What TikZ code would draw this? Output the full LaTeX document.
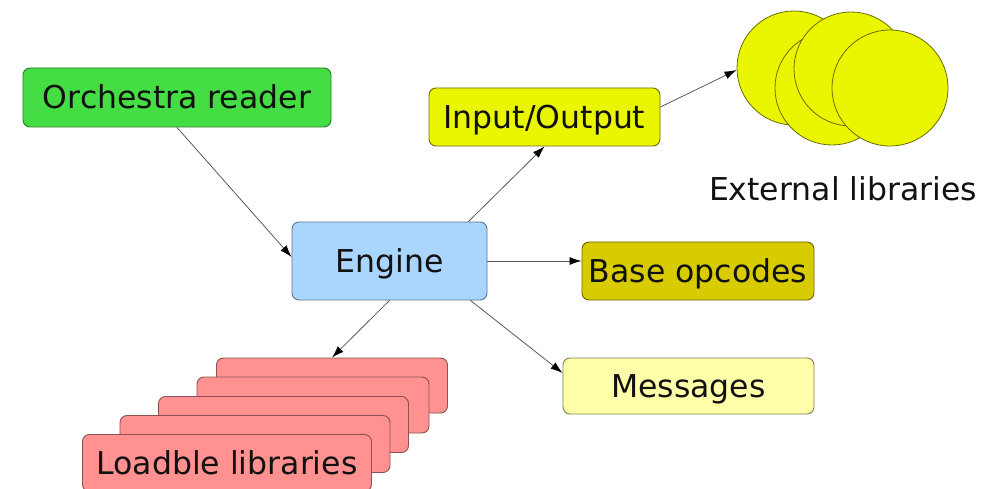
\documentclass[tikz,border=0pt]{standalone}
\usepackage{fontspec}
\setmainfont{DejaVu Sans}
\usetikzlibrary{arrows.meta,calc}
\definecolor{cgreen}{HTML}{44DD44}
\definecolor{cyellow}{HTML}{EAF500}
\definecolor{cblue}{HTML}{AAD5FF}
\definecolor{colive}{HTML}{D8CC00}
\definecolor{cpale}{HTML}{FFFFAA}
\definecolor{cred}{HTML}{FF9191}
\definecolor{ctext}{HTML}{111111}
\tikzset{
  box/.style={rounded corners=7pt, line width=0.9pt, inner sep=0pt,
    text=ctext, font=\fontsize{31.5}{38}\selectfont, text height=23pt, text depth=0pt},
  libbox/.style={box, fill=cred, draw=cred!55!black},
  ball/.style={circle, fill=cyellow, draw=cyellow!45!black, line width=0.8pt,
    minimum size=#1, inner sep=0pt},
  conn/.style={draw=black!65, line width=0.8pt, -{Latex[length=12pt,width=8pt,color=black]}},
  lbl/.style={text=ctext, font=\fontsize{31.5}{38}\selectfont, inner sep=0pt, text height=23pt, text depth=0pt}
}
\begin{document}
\begin{tikzpicture}[x=1pt,y=1pt]
\clip (0,0) rectangle (996,488);
% Orchestra reader
\node[box, fill=cgreen, draw=cgreen!55!black, minimum width=308pt, minimum height=59pt] (orch) at (177,390.5) {Orchestra reader};
% Input/Output
\node[box, fill=cyellow, draw=cyellow!45!black, minimum width=231pt, minimum height=58pt] (io) at (544.5,371) {Input/Output};
% Engine
\node[box, fill=cblue, draw=cblue!55!black, minimum width=195pt, minimum height=78pt] (engine) at (389.5,227) {Engine};
% Base opcodes
\node[box, fill=colive, draw=colive!50!black, minimum width=232pt, minimum height=58pt] (base) at (698,217) {Base opcodes};
% Messages
\node[box, fill=cpale, draw=cpale!50!black, minimum width=251pt, minimum height=56pt] (msg) at (688.5,102) {Messages};
% Loadable libraries stack
\node[libbox, minimum width=231pt, minimum height=55pt] (lib5) at (332,102.5) {};
\node[libbox, minimum width=232pt, minimum height=56pt] (lib4) at (313,83) {};
\node[libbox, minimum width=250pt, minimum height=56pt] (lib3) at (283.5,63.5) {};
\node[libbox, minimum width=270pt, minimum height=57pt] (lib2) at (255,44) {};
\node[libbox, minimum width=289pt, minimum height=57pt] (lib1) at (227,25) {Loadble libraries};
% External libraries
\node[ball=114pt] (c1) at (794,420) {};
\node[ball=114pt] (c2) at (832,400) {};
\node[ball=114pt] (c3) at (851,419) {};
\node[ball=116pt] (c4) at (890,400) {};
\node[lbl] (ext) at (843,299) {External libraries};
% connectors
\draw[conn] (orch.south) -- ([yshift=4pt]engine.west);
\draw[conn] ([xshift=-19pt]engine.north east) -- (io.south);
\draw[conn] ([yshift=10pt]io.east) -- ([yshift=-2pt]c1.west);
\draw[conn] (engine.east) -- (engine.east -| base.west);
\draw[conn] (engine.south) -- (lib5.north);
\draw[conn] ([xshift=-17pt]engine.south east) -- ([yshift=13pt]msg.west);
\end{tikzpicture}
\end{document}
